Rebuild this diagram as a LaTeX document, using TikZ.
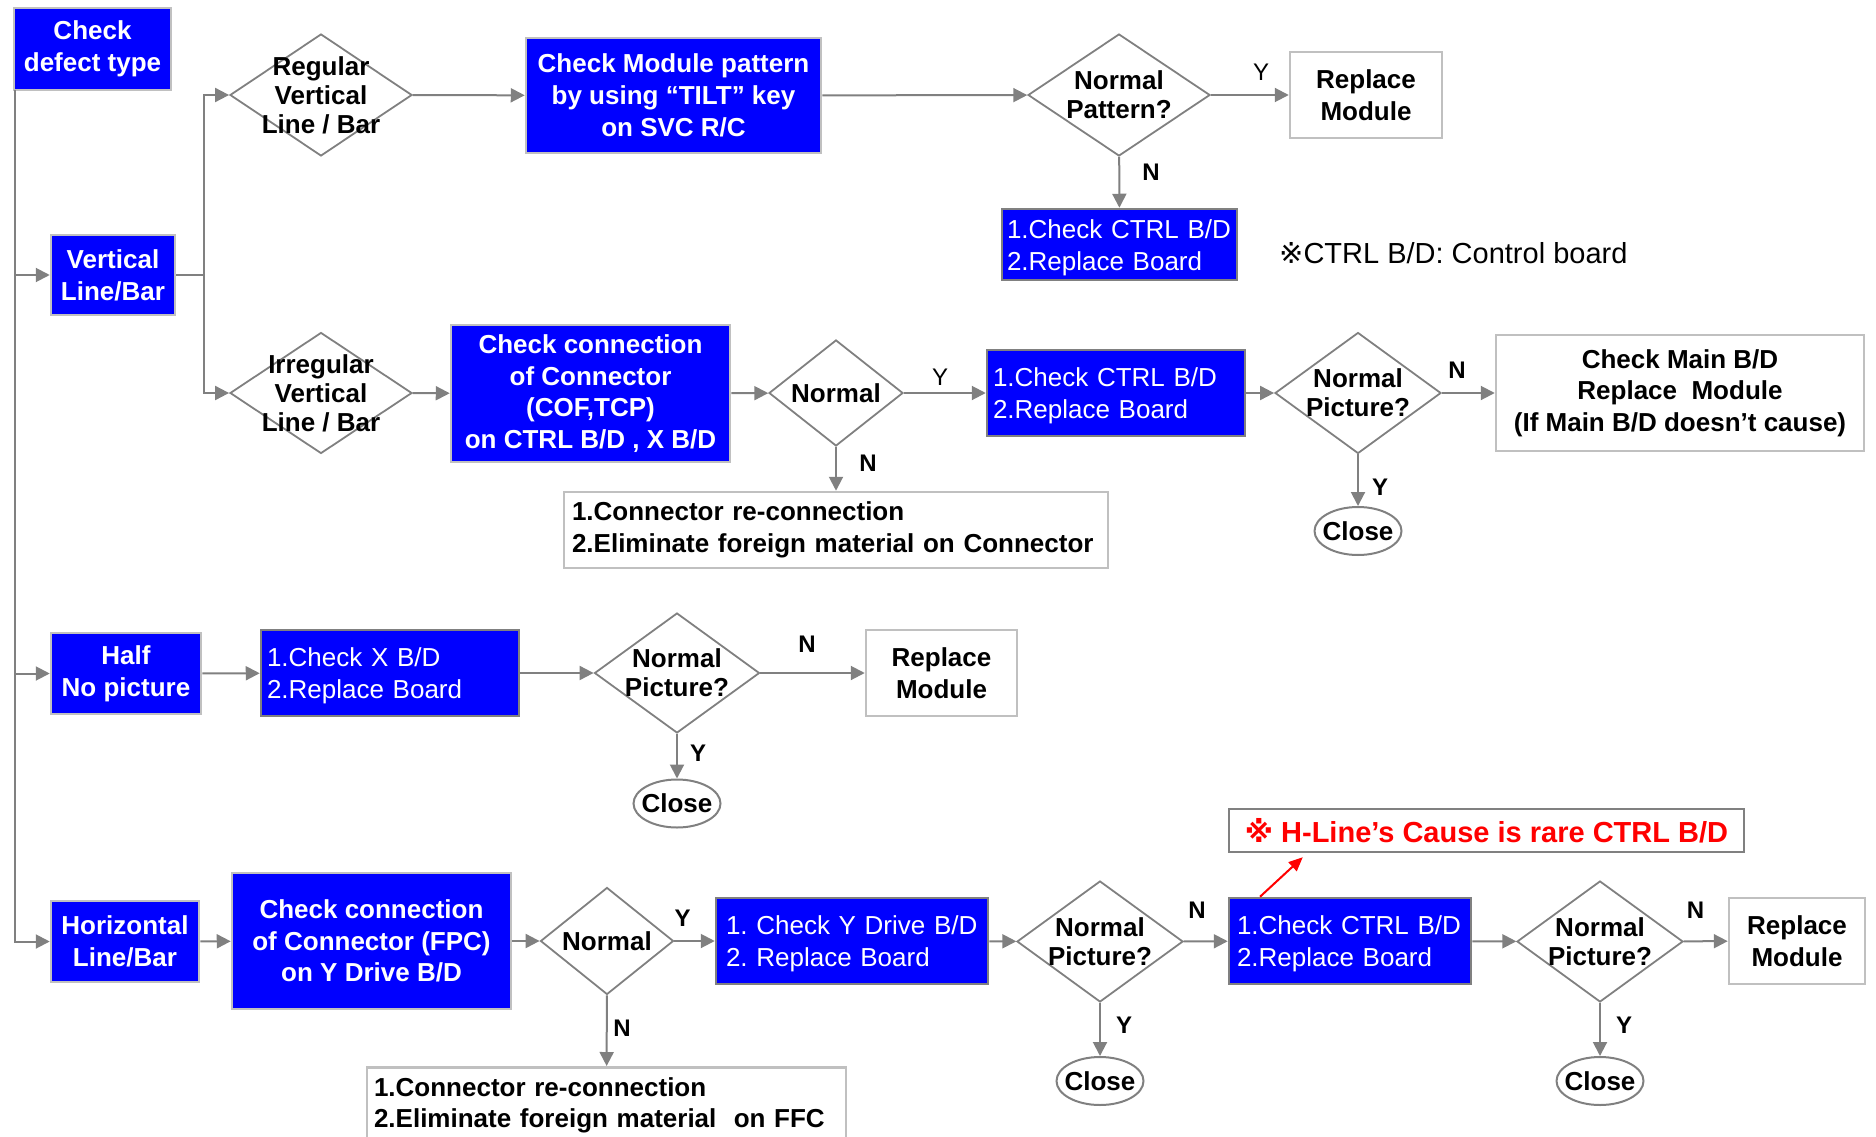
\documentclass[tikz,border=0pt]{standalone}
\usepackage{fontspec}
\setmainfont{Liberation Sans}
\newfontfamily\refmark{DejaVu Sans}
\usepackage{xcolor}
\usetikzlibrary{arrows.meta,shapes.geometric,positioning}
\definecolor{flowblue}{RGB}{0,0,255}
\definecolor{edgegray}{RGB}{128,128,128}
\definecolor{rimgray}{RGB}{192,192,192}
\newcommand{\bigtxt}{\fontsize{26}{31.7}\selectfont}
\newcommand{\dectxt}{\fontsize{26}{29}\selectfont}
\frenchspacing

\begin{document}
\frenchspacing
\begin{tikzpicture}[x=1pt,y=-1pt,
  sz/.style 2 args={minimum width=#1, minimum height=#2},
  blk/.style={rectangle, fill=flowblue, draw=rimgray, line width=2.5pt, text=white, font=\bigtxt\bfseries, align=center, inner sep=0pt},
  blkr/.style={rectangle, fill=flowblue, draw=edgegray, line width=2.5pt, text=white, font=\bigtxt, align=left, inner xsep=6pt, inner ysep=0pt, execute at begin node={\rule{0pt}{25pt}}},
  wbox/.style={rectangle, fill=white, draw=rimgray, line width=2.5pt, font=\bigtxt\bfseries, align=center, inner sep=0pt},
  wboxl/.style={wbox, align=left, inner xsep=8pt},
  dec/.style={diamond, draw=edgegray, line width=1.8pt, inner sep=0pt},
  dtext/.style={font=\dectxt\bfseries, align=center},
  term/.style={ellipse, draw=edgegray, line width=2pt, font=\bigtxt\bfseries, inner xsep=-5pt, inner ysep=0pt, minimum width=87, minimum height=48},
  lbl/.style={font=\fontsize{24}{28}\selectfont\bfseries},
  lblr/.style={font=\fontsize{24}{28}\selectfont},
  flow/.style={draw=edgegray, line width=2pt, -{Triangle[length=14pt,width=14pt]}},
  wire/.style={draw=edgegray, line width=2pt}]
\useasboundingbox (0,0) rectangle (1876,1137);

\node[blk, sz={157}{82}] (defect) at (92.5,49) {Check\\defect type};
\node[blk, sz={124}{80}] (vert) at (113,275) {Vertical\\Line/Bar};
\node[blk, sz={150}{81}] (half) at (126,673.5) {Half\\No picture};
\node[blk, sz={148}{81}] (horiz) at (125,941.5) {Horizontal\\Line/Bar};

% vertical line / bar
\node[dec, sz={182}{122}, label={[dtext,name=regtxt]center:{Regular\\Vertical\\Line / Bar}}] (regdec) at (321,95) {};
\node[blk, sz={295}{115}] (tilt) at (673.5,95.5) {Check Module pattern\\by using “TILT” key\\on SVC R/C};
\node[dec, sz={182}{122}, label={[dtext,name=patttxt]center:{Normal\\Pattern?}}] (pattdec) at (1119,95) {};
\node[wbox, sz={152}{86}] (repl1) at (1366,95) {Replace\\Module};
\node[blkr, text width=225, inner xsep=5pt, minimum height=71] (ctrl1) at (1119.5,244.5) {1.Check CTRL B/D\\2.Replace Board};
\node[font=\fontsize{29}{34}\selectfont, anchor=west, inner sep=0pt] (ctrlnote) at (1279,253) {{\refmark ※}CTRL B/D: Control board};

\node[dec, sz={182}{121}, label={[dtext,name=irrtxt]center:{Irregular\\Vertical\\Line / Bar}}] (irrdec) at (321,393) {};
\node[blk, sz={279}{137}] (cofbox) at (590.5,393.5) {Check connection\\of Connector\\(COF,TCP)\\on CTRL B/D , X B/D};
\node[dec, sz={134}{106}, label={[dtext,name=norm2txt]center:Normal}] (normdec2) at (836,393) {};
\node[wboxl, text width=528, minimum height=76] (conn2) at (836,530) {1.Connector re-connection\\2.Eliminate foreign material on Connector};
\node[blkr, text width=246, minimum height=86] (ctrl2) at (1116,393) {1.Check CTRL B/D\\2.Replace Board};
\node[dec, sz={166}{121}, label={[dtext,name=pic2txt]center:{Normal\\Picture?}}] (picdec2) at (1358,393) {};
\node[wbox, sz={368}{116}] (mainb) at (1680,393) {Check Main B/D\\Replace~ Module\\(If Main B/D doesn’t cause)};
\node[term] (close2) at (1358,531) {Close};

% half no picture
\node[blkr, text width=246, minimum height=86] (xbd) at (390,673) {1.Check X B/D\\2.Replace Board};
\node[dec, sz={165}{120}, label={[dtext,name=pic3txt]center:{Normal\\Picture?}}] (picdec3) at (677,673) {};
\node[wbox, sz={151}{86}] (repl3) at (941.5,673) {Replace\\Module};
\node[term] (close3) at (677,803.5) {Close};

% horizontal line / bar
\node[blk, sz={279}{136}] (fpcbox) at (371.5,941) {Check connection\\of Connector (FPC)\\on Y Drive B/D};
\node[dec, sz={133}{107}, label={[dtext,name=norm4txt]center:Normal}] (normdec4) at (607,941) {};
\node[wboxl, text width=465, inner xsep=7pt, inner ysep=10pt, anchor=north] (conn4) at (606.5,1066) {1.Connector re-connection\\2.Eliminate foreign material~ on FFC\rule[-30pt]{0pt}{1pt}};
\node[blkr, text width=252, inner xsep=10pt, minimum height=86] (ydrv) at (852,941) {1. Check Y Drive B/D\\2. Replace Board};
\node[dec, sz={166}{121}, label={[dtext,name=pic4txt]center:{Normal\\Picture?}}] (picdec4) at (1100,941.5) {};
\node[blkr, text width=226, inner xsep=8pt, minimum height=86] (ctrl4) at (1350,941) {1.Check CTRL B/D\\2.Replace Board};
\node[dec, sz={166}{121}, label={[dtext,name=pic5txt]center:{Normal\\Picture?}}] (picdec5) at (1600,941.5) {};
\node[wbox, sz={136}{86}] (repl5) at (1797,941) {Replace\\Module};
\node[term] (close4) at (1100,1081) {Close};
\node[term] (close5) at (1600,1081) {Close};
\node[rectangle, draw=edgegray, line width=2.5pt, sz={515}{43}, inner sep=0pt, text=red, font=\fontsize{29}{34}\selectfont\bfseries] (redbox) at (1486.5,830.5) {{\refmark ※} H-Line’s Cause is rare CTRL B/D};

\node[lblr] (yes1) at (1261,72) {Y};
\node[lbl] (no1) at (1151,172) {N};
\node[lblr] (yes2) at (940,377) {Y};
\node[lbl] (no2) at (868,463) {N};
\node[lbl] (no3) at (1457,370) {N};
\node[lbl] (yes3) at (1380,487) {Y};
\node[lbl] (no4) at (807,644.5) {N};
\node[lbl] (yes4) at (698,753) {Y};
\node[lbl] (yes5) at (682.5,918) {Y};
\node[lbl] (no5) at (622,1028) {N};
\node[lbl] (no6) at (1197,910) {N};
\node[lbl] (yes6) at (1124,1025) {Y};
\node[lbl] (no7) at (1695.5,910) {N};
\node[lbl] (yes7) at (1624,1025) {Y};

\coordinate (trunk) at (15,90);
\draw[flow] (trunk) |- (horiz);
\draw[flow] (trunk |- vert) -- (vert);
\draw[flow] (trunk |- half) -- (half);
\draw[wire] (vert.east) -- ++(28,0) coordinate (fork);
\draw[flow] (fork) |- (regdec);
\draw[flow] (fork) |- (irrdec);

\draw[flow] (regdec) -- (tilt);
\draw[flow] (tilt) -- (pattdec);
\draw[flow] (pattdec) -- (repl1);
\draw[flow] (pattdec) -- (ctrl1);

\draw[flow] (irrdec) -- (cofbox);
\draw[flow] (cofbox) -- (normdec2);
\draw[flow] (normdec2) -- (ctrl2);
\draw[flow] (normdec2) -- (conn2);
\draw[flow] (ctrl2) -- (picdec2);
\draw[flow] (picdec2) -- (mainb);
\draw[flow] (picdec2) -- (close2);

\draw[flow] (half) -- (xbd);
\draw[flow] (xbd) -- (picdec3);
\draw[flow] (picdec3) -- (repl3);
\draw[flow] (picdec3) -- (close3);

\draw[flow] (horiz) -- (fpcbox);
\draw[flow] (fpcbox) -- (normdec4);
\draw[flow] (normdec4) -- (ydrv);
\draw[flow] (normdec4) -- (conn4);
\draw[flow] (ydrv) -- (picdec4);
\draw[flow] (picdec4) -- (ctrl4);
\draw[flow] (ctrl4) -- (picdec5);
\draw[flow] (picdec5) -- (repl5);
\draw[flow] (picdec4) -- (close4);
\draw[flow] (picdec5) -- (close5);
\draw[red, line width=2pt, -{Triangle[length=14pt,width=12pt]}] ([xshift=-90]ctrl4.north) -- ([shift={(75,4)}]redbox.south west);

\end{tikzpicture}
\end{document}
